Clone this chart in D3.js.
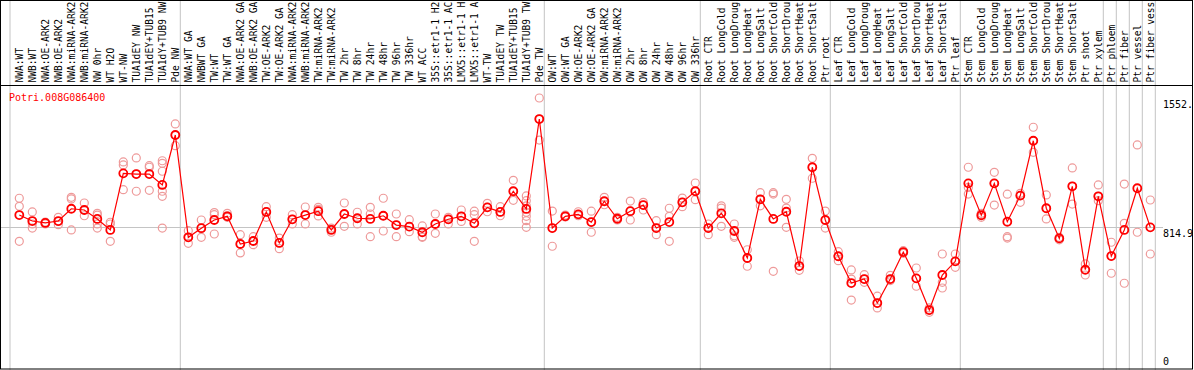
<!DOCTYPE html>
<html>
<head>
<meta charset="utf-8">
<script src="https://cdn.jsdelivr.net/npm/d3@7"></script>
<style>
  body { margin: 0; background: #fff; }
  text { font-family: "DejaVu Sans Mono", "Liberation Mono", monospace; font-size: 10px; }
  .sample { font-size: 9.6px; }
</style>
</head>
<body>
<div id="graph"></div>
<script>
var width = 1194;
var height = 370;

var geneId = "Potri.008G086400";

// sample names, one per column (as they show in the header strip)
var labels = [
  "NWA:WT", "NWB:WT", "NWA:OE-ARK2", "NWB:OE-ARK2", "NWA:miRNA-ARK2", "NWB:miRNA-ARK2",
  "NW 0hr", "WT H2O", "WT-NW", "TUA1dEY NW", "TUA1dEY+TUB15", "TUA1dY+TUB9 NW", "Pde NW",
  "NWA:WT GA", "NWBWT GA", "TW:WT", "TW:WT GA", "NWA:OE-ARK2 GA", "NWB:OE-ARK2 GA",
  "TW:OE-ARK2", "TW:OE-ARK2 GA", "NWA:miRNA-ARK2", "NWB:miRNA-ARK2", "TW:miRNA-ARK2",
  "TW:miRNA-ARK2", "TW 2hr", "TW 8hr", "TW 24hr", "TW 48hr", "TW 96hr", "TW 336hr",
  "WT ACC", "35S::etr1-1 H2", "35S::etr1-1 AC", "LMX5::etr1-1 H", "LMX5::etr1-1 A",
  "WT-TW", "TUA1dEY TW", "TUA1dEY+TUB15", "TUA1dY+TUB9 TW", "Pde TW",
  "OW:WT", "OW:WT GA", "OW:OE-ARK2", "OW:OE-ARK2 GA", "OW:miRNA-ARK2", "OW:miRNA-ARK2",
  "OW 2hr", "OW 8hr", "OW 24hr", "OW 48hr", "OW 96hr", "OW 336hr",
  "Root CTR", "Root LongCold", "Root LongDroug", "Root LongHeat", "Root LongSalt",
  "Root ShortCold", "Root ShortDrou", "Root ShortHeat", "Root ShortSalt", "Ptr root",
  "Leaf CTR", "Leaf LongCold", "Leaf LongDroug", "Leaf LongHeat", "Leaf LongSalt",
  "Leaf ShortCold", "Leaf ShortDrou", "Leaf ShortHeat", "Leaf ShortSalt", "Ptr leaf",
  "Stem CTR", "Stem LongCold", "Stem LongDroug", "Stem LongHeat", "Stem LongSalt",
  "Stem ShortCold", "Stem ShortDrou", "Stem ShortHeat", "Stem ShortSalt", "Ptr shoot",
  "Ptr xylem", "Ptr phloem", "Ptr fiber", "Ptr vessel", "Ptr fiber vess"
];

// mean expression per column
var means = [
  884, 850, 839, 850, 920, 913, 862, 799, 1122, 1118, 1118, 1056, 1341,
  757, 809, 856, 877, 719, 736, 902, 725, 860, 884, 906, 799, 890, 866, 862, 880, 827,
  818, 786, 833, 860, 877, 837, 928, 902, 1020, 919, 1432,
  810, 877, 888, 844, 963, 863, 906, 941, 810, 844, 957, 1020,
  810, 894, 793, 639, 974, 862, 903, 593, 1157, 856,
  649, 496, 519, 382, 519, 673, 523, 342, 542, 620,
  1065, 883, 1065, 846, 995, 1308, 923, 751, 1048, 572, 991,
  650, 799, 1037, 814
];

// individual replicates per column
var replicates = [
  [980, 934, 734], [902, 833, 810], [844, 833, 839], [871, 848, 829], [985, 976, 799],
  [953, 913, 880], [894, 884, 833, 810], [843, 833, 734], [1187, 1170, 1029],
  [1210, 1118, 1020], [1166, 1157, 1025], [1194, 1179, 1134, 1020, 991, 810],
  [1404, 1339, 1280],
  [795, 757, 723], [856, 810, 757], [898, 886, 776], [894, 880, 871], [772, 719, 668],
  [761, 736, 715], [932, 902, 871], [753, 725, 692], [886, 860, 833], [930, 884, 833],
  [928, 917, 879], [810, 803, 786], [953, 890, 820], [900, 866, 833], [928, 890, 761],
  [980, 880, 793], [890, 827, 761], [858, 818, 789], [822, 761, 757], [890, 833, 780],
  [871, 860, 833], [913, 877, 848], [906, 886, 734], [951, 928, 903], [932, 902, 880],
  [1082, 1020, 968], [993, 966, 937, 900, 877, 852, 814], [1552, 1432, 1312],
  [907, 810, 706], [884, 877, 873], [903, 888, 880], [906, 844, 786], [985, 963, 943],
  [871, 863, 856], [964, 906, 856], [957, 941, 913], [852, 810, 772], [923, 877, 734],
  [981, 957, 932], [1067, 1020, 972],
  [833, 810, 772], [937, 924, 820], [833, 766, 757], [686, 639, 592], [1012, 974, 937],
  [1012, 1004, 563], [974, 924, 814], [622, 593, 569], [1208, 1157, 1094], [907, 856, 810],
  [675, 649, 624], [571, 519, 399], [544, 519, 500], [421, 382, 354], [540, 519, 510],
  [681, 673, 666], [582, 523, 478], [354, 342, 329], [662, 500, 468], [662, 620, 586],
  [1157, 1042, 1004], [894, 883, 871], [1128, 1065, 941], [1003, 761, 753], [1008, 995, 957],
  [1385, 1308, 1242], [999, 923, 862], [757, 751, 743], [1153, 1048, 947], [605, 572, 542],
  [1056, 991, 966],
  [729, 650, 552], [1061, 837, 495], [1284, 786], [970, 662]
];

// last column index of each sample group (a separator follows it)
var groupEnds = [12, 40, 52, 62, 72, 83, 84, 85, 86, 87];

var yMax = 1552;
var refValue = 814.9;
var tickValues = [yMax, refValue, 0];
var tickLabels = ["1552.", "814.9", "0"];

////////////////////////////////////////////////////////////////////////////////
/*                               DRAW                                          */
////////////////////////////////////////////////////////////////////////////////
var svg = d3.select("#graph")
  .append("svg")
  .attr("width", width)
  .attr("height", height);

var labelBottom = 85;

var x = d3.scaleLinear()
  .domain([0, labels.length - 1])
  .range([19.3, 1150.3]);

var y = d3.scaleLinear()
  .domain([0, yMax])
  .range([370, 98]);

var grid = "#c4c4c4";

// group separators + left edge line
var seps = [x(0) - 9.3].concat(groupEnds.map(function (i) { return x(i) + 5; }));
svg.append("g")
  .selectAll("line")
  .data(seps)
  .enter()
  .append("line")
  .attr("x1", function (d) { return d; })
  .attr("x2", function (d) { return d; })
  .attr("y1", 0)
  .attr("y2", height)
  .attr("stroke", grid)
  .attr("stroke-width", 1);

// reference line
svg.append("line")
  .attr("x1", 1)
  .attr("x2", 1163)
  .attr("y1", Math.round(y(refValue)) + 0.5)
  .attr("y2", Math.round(y(refValue)) + 0.5)
  .attr("stroke", grid);

// vertical sample labels
svg.append("g")
  .selectAll("text")
  .data(labels)
  .enter()
  .append("text")
  .attr("class", "sample")
  .attr("transform", function (d, i) {
    return "translate(" + x(i) + "," + (labelBottom - 2.5) + ") rotate(-90)";
  })
  .attr("dy", "0.36em")
  .attr("fill", "#000")
  .text(function (d) { return d; });

// gene id
svg.append("text")
  .attr("x", 9)
  .attr("y", 100.5)
  .attr("fill", "red")
  .text(geneId);

// right value labels
svg.append("g")
  .selectAll("text")
  .data(tickValues)
  .enter()
  .append("text")
  .attr("x", 1163)
  .attr("y", function (d) { return Math.min(y(d) + 10, 365); })
  .attr("fill", "#000")
  .text(function (d, i) { return tickLabels[i]; });

// replicate points
var repPoints = [];
replicates.forEach(function (arr, i) {
  arr.forEach(function (v) { repPoints.push({ i: i, v: v }); });
});

svg.append("g")
  .selectAll("circle")
  .data(repPoints)
  .enter()
  .append("circle")
  .attr("cx", function (d) { return x(d.i); })
  .attr("cy", function (d) { return y(d.v); })
  .attr("r", 4)
  .attr("fill", "none")
  .attr("stroke", "#ee9a9a")
  .attr("stroke-width", 1.2);

// mean line
var line = d3.line()
  .x(function (d, i) { return x(i); })
  .y(function (d) { return y(d); });

svg.append("path")
  .datum(means)
  .attr("d", line)
  .attr("fill", "none")
  .attr("stroke", "red")
  .attr("stroke-width", 1.2);

svg.append("g")
  .selectAll("circle")
  .data(means)
  .enter()
  .append("circle")
  .attr("cx", function (d, i) { return x(i); })
  .attr("cy", function (d) { return y(d); })
  .attr("r", 4)
  .attr("fill", "none")
  .attr("stroke", "red")
  .attr("stroke-width", 1.8);

// frame
svg.append("rect")
  .attr("x", 0.5)
  .attr("y", 0.5)
  .attr("width", 1192)
  .attr("height", 368.5)
  .attr("fill", "none")
  .attr("stroke", "#000");

svg.append("line")
  .attr("x1", 0)
  .attr("x2", 1193)
  .attr("y1", labelBottom + 0.5)
  .attr("y2", labelBottom + 0.5)
  .attr("stroke", "#000");
</script>
</body>
</html>
